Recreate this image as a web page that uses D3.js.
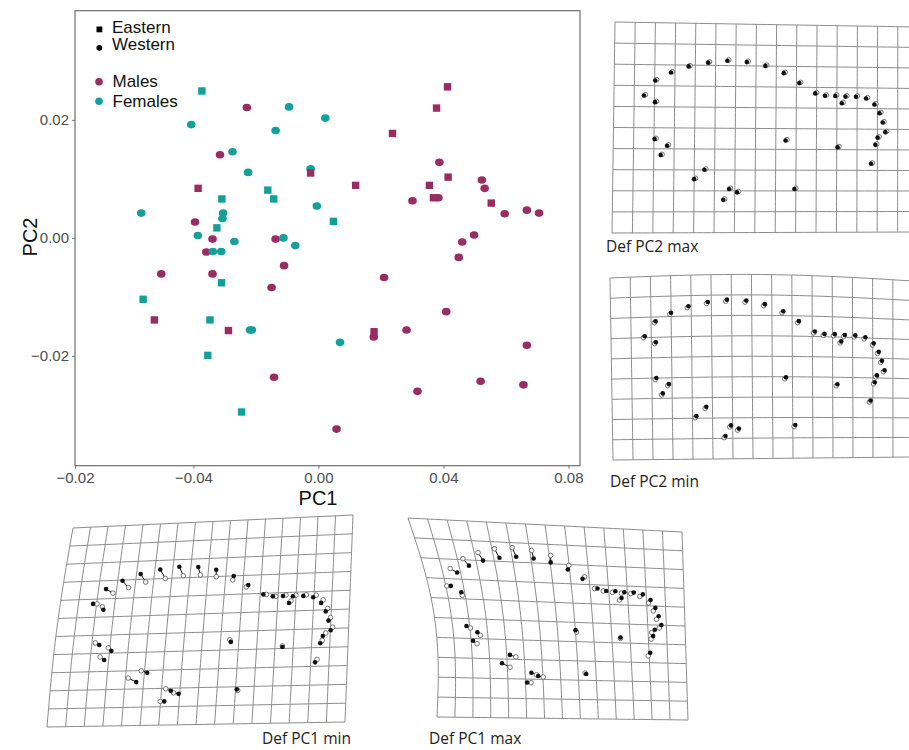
<!DOCTYPE html>
<html>
<head>
<meta charset="utf-8">
<script src="https://cdn.jsdelivr.net/npm/d3@7"></script>
<style>
body { margin: 0; background: #fff; }
svg { display: block; font-family: "Liberation Sans", Arial, sans-serif; }
</style>
</head>
<body>
<svg id="chart" width="909" height="750"></svg>
<script>
// PCA scores, [PC1, PC2]
const maleEastern = [
  [0.0413, 0.0256], [0.0378, 0.0220], [0.0237, 0.0177], [-0.0025, 0.0110], [-0.0385, 0.0084],
  [0.0119, 0.0089], [0.0355, 0.0089], [0.0415, 0.0103], [0.0368, 0.0068], [0.0553, 0.0059],
  [-0.0525, -0.0139], [-0.0288, -0.0157], [0.0178, -0.0159]
];
const maleWestern = [
  [-0.0229, 0.0221], [-0.0315, 0.0141], [0.0387, 0.0128], [0.0523, 0.0098], [0.0532, 0.0084],
  [0.0301, 0.0063], [0.0384, 0.0068], [0.0667, 0.0047], [0.0706, 0.0042], [0.0596, 0.0041],
  [-0.0395, 0.0027], [-0.0339, -0.0002], [-0.0137, -0.0002], [0.0498, 0.0005], [0.0460, -0.0007],
  [-0.0359, -0.0024], [0.0449, -0.0033], [-0.0110, -0.0047], [-0.0503, -0.0061], [-0.0339, -0.0061],
  [-0.0150, -0.0084], [0.0210, -0.0067], [0.0409, -0.0125], [0.0282, -0.0156], [0.0177, -0.0168],
  [0.0667, -0.0182], [-0.0142, -0.0236], [0.0519, -0.0243], [0.0317, -0.0260], [0.0656, -0.0249],
  [0.0058, -0.0324]
];
const femaleEastern = [
  [-0.0373, 0.0249], [-0.0309, 0.0066], [-0.0162, 0.0081], [-0.0143, 0.0066], [-0.0325, 0.0017],
  [0.0048, 0.0028], [-0.0310, -0.0076], [-0.0561, -0.0104], [-0.0347, -0.0139], [-0.0354, -0.0199],
  [-0.0246, -0.0295]
];
const femaleWestern = [
  [-0.0407, 0.0192], [-0.0094, 0.0222], [0.0022, 0.0203], [-0.0137, 0.0182], [-0.0275, 0.0146],
  [-0.0225, 0.0111], [-0.0025, 0.0117], [-0.0005, 0.0054], [-0.0567, 0.0042], [-0.0305, 0.0042],
  [-0.0307, 0.0033], [-0.0386, 0.0004], [-0.0269, -0.0006], [-0.0112, 0.0000], [-0.0074, -0.0013],
  [-0.0338, -0.0023], [-0.0311, -0.0023], [-0.0219, -0.0156], [-0.0213, -0.0156], [0.0069, -0.0177]
];

// axis ticks (the leftmost label is printed as in the original figure)
const xTickValues = [-0.0779, -0.04, 0, 0.04, 0.08];
const xTickLabels = ["\u22120.02", "\u22120.04", "0.00", "0.04", "0.08"];
const yTickValues = [-0.02, 0, 0.02];
const yTickLabels = ["\u22120.02", "0.00", "0.02"];

// landmark configuration (grid cell units of the PC2 max grid)
const lmU = [1.48, 2.03, 2.80, 3.67, 4.63, 5.58, 6.54, 7.46, 8.37, 9.14,
  2.03, 2.03, 2.65, 2.34, 4.00, 4.50, 5.44, 5.72, 6.11, 8.48, 8.93,
  9.93, 10.41, 10.92, 11.42, 11.94, 12.44, 12.85, 13.10, 13.26, 13.39, 13.01, 12.90, 12.69, 11.04, 11.24];
const lmV = [3.47, 2.75, 2.36, 2.06, 1.87, 1.77, 1.82, 1.99, 2.33, 2.80,
  3.78, 5.54, 5.85, 6.30, 7.44, 6.99, 8.43, 7.91, 8.07, 5.57, 7.91,
  3.29, 3.40, 3.40, 3.43, 3.43, 3.51, 3.80, 4.22, 4.67, 5.14, 5.41, 5.76, 6.68, 5.89, 3.75];
// mean minus target at PC1 max, px
const pc1ShiftX = [-4, -7, -6, -5, -5, -4, -2, 0, 1, 2,
  1, 4, 3, 4, 8, 6, 4, 5, 5, 1, -1,
  -3, -3, -3, -3, -3, -3, -2, -2, -2, -2, -3, -2, -2, 0, -2];
const pc1ShiftY = [0, -4, -7, -8, -9, -9, -8, -7, -4, -2,
  3, 2, 3, 3, 4, 2, 0, 2, 1, 2, -1,
  0, 0, 1, 1, 1, 2, 3, 3, 3, 3, 3, 3, 3, 1, 2];

const panels = [
  { label: "Def PC2 max", corners: [[615, 22], [918, 27], [918, 232], [612, 233]], nCols: 15, nRows: 10,
    u0: 0, su: 1, v0: 0, sv: 1, bowX: 0, bowY: 0, pc1: 0, shift: [1.4, -0.8], lx: 606, ly: 252 },
  { label: "Def PC2 min", corners: [[610, 278], [913, 281], [913, 457], [613, 460]], nCols: 15, nRows: 9,
    u0: 0.013, su: 1, v0: -0.06, sv: 1.111, bowX: 0, bowY: -5, pc1: 0, shift: [-1.2, 1.5], lx: 610, ly: 487 },
  { label: "Def PC1 min", corners: [[73, 528], [353, 515], [345, 722], [47, 727]], nCols: 16, nRows: 11,
    u0: 0.01, su: 1.04, v0: 0.04, sv: 1, bowX: -3, bowY: 0, pc1: -1, shift: [0, 0], lx: 262, ly: 744 },
  { label: "Def PC1 max", corners: [[408, 518], [682, 532], [688, 720], [437, 717]], nCols: 14, nRows: 10,
    u0: -0.01, su: 1.03, v0: 0, sv: 0.97, bowX: 12, bowY: 0, pc1: 1, shift: [0, 0], lx: 429, ly: 744 }
];

const magenta = "#9b2b63", teal = "#12a09a";
const svg = d3.select("#chart");
svg.append("rect").attr("width", 909).attr("height", 750).attr("fill", "#fff");

// ---- deformation grids ----
function warp(p, s, t) {
  const [tl, tr, br, bl] = p.corners;
  let px = (1 - s) * (1 - t) * tl[0] + s * (1 - t) * tr[0] + s * t * br[0] + (1 - s) * t * bl[0];
  let py = (1 - s) * (1 - t) * tl[1] + s * (1 - t) * tr[1] + s * t * br[1] + (1 - s) * t * bl[1];
  px += p.bowX * Math.sin(Math.PI * t) * (1 - s) * (1 - s);
  py += p.bowY * Math.sin(Math.PI * s) * (1 - t);
  return [px, py];
}
const line = d3.line();

panels.forEach(p => {
  const g = svg.append("g");
  for (let j = 0; j <= p.nRows; j++) {
    const pts = d3.range(41).map(k => warp(p, k / 40, j / p.nRows));
    g.append("path").attr("d", line(pts)).attr("fill", "none").attr("stroke", "#8c8c8c").attr("stroke-width", 1);
  }
  for (let i = 0; i <= p.nCols; i++) {
    const pts = d3.range(41).map(k => warp(p, i / p.nCols, k / 40));
    g.append("path").attr("d", line(pts)).attr("fill", "none").attr("stroke", "#8c8c8c").attr("stroke-width", 1);
  }
  const lms = lmU.map((u, i) => {
    const target = warp(p, p.u0 + p.su * u / 15, p.v0 + p.sv * lmV[i] / 10);
    const mean = [target[0] + p.pc1 * pc1ShiftX[i] + p.shift[0], target[1] + p.pc1 * pc1ShiftY[i] + p.shift[1]];
    return { target, mean };
  });
  g.selectAll(".link").data(lms).enter().append("line")
    .attr("x1", d => d.target[0]).attr("y1", d => d.target[1])
    .attr("x2", d => d.mean[0]).attr("y2", d => d.mean[1])
    .attr("stroke", "#111").attr("stroke-width", 1);
  g.selectAll(".mean").data(lms).enter().append("circle")
    .attr("cx", d => d.mean[0]).attr("cy", d => d.mean[1]).attr("r", 2.3)
    .attr("fill", "#fff").attr("stroke", "#666").attr("stroke-width", 0.9);
  g.selectAll(".target").data(lms).enter().append("circle")
    .attr("cx", d => d.target[0]).attr("cy", d => d.target[1]).attr("r", 2.3)
    .attr("fill", "#111");
  svg.append("text").attr("x", p.lx).attr("y", p.ly).text(p.label)
    .attr("font-family", "'Open Sans', 'Noto Sans', sans-serif").attr("font-size", 15.5).attr("fill", "#222");
});

// ---- scatter plot ----
const x = d3.scaleLinear().domain([-0.0779, 0.0837]).range([75, 580]);
const y = d3.scaleLinear().domain([-0.0386, 0.0385]).range([465.7, 10.7]);

const gx = svg.append("g").attr("transform", "translate(0,465.7)")
  .call(d3.axisBottom(x).tickValues(xTickValues).tickFormat((d, i) => xTickLabels[i]).tickSize(3).tickPadding(4));
const gy = svg.append("g").attr("transform", "translate(75,0)")
  .call(d3.axisLeft(y).tickValues(yTickValues).tickFormat((d, i) => yTickLabels[i]).tickSize(3).tickPadding(3));
[gx, gy].forEach(g => {
  g.select(".domain").remove();
  g.attr("font-family", "'Liberation Sans', Arial, sans-serif").attr("font-size", 15);
  g.selectAll("line").attr("stroke", "#777");
  g.selectAll("text").attr("fill", "#4d4d4d");
});

svg.append("rect").attr("x", 75).attr("y", 10.7).attr("width", 505).attr("height", 455)
  .attr("fill", "none").attr("stroke", "#6e6e6e").attr("stroke-width", 1.2);

svg.append("text").attr("x", 318).attr("y", 505).attr("text-anchor", "middle")
  .attr("font-size", 20).attr("fill", "#111").text("PC1");
svg.append("text").attr("transform", "translate(37,237) rotate(-90)").attr("text-anchor", "middle")
  .attr("font-size", 20).attr("fill", "#111").text("PC2");

const plot = svg.append("g");
function circles(data, color) {
  plot.selectAll(null).data(data).enter().append("ellipse")
    .attr("cx", d => x(d[0])).attr("cy", d => y(d[1])).attr("rx", 4.3).attr("ry", 3.8).attr("fill", color);
}
function squares(data, color) {
  plot.selectAll(null).data(data).enter().append("rect")
    .attr("x", d => x(d[0]) - 3.7).attr("y", d => y(d[1]) - 3.7).attr("width", 7.4).attr("height", 7.4).attr("fill", color);
}
circles(maleWestern, magenta);
circles(femaleWestern, teal);
squares(maleEastern, magenta);
squares(femaleEastern, teal);

// legend
const leg = svg.append("g").attr("font-size", 17).attr("fill", "#111");
leg.append("rect").attr("x", 96.5).attr("y", 26.5).attr("width", 5.8).attr("height", 5.8).attr("fill", "#000");
leg.append("circle").attr("cx", 99.3).attr("cy", 47.8).attr("r", 2.9).attr("fill", "#000");
leg.append("text").attr("x", 112).attr("y", 33).text("Eastern");
leg.append("text").attr("x", 112).attr("y", 50).text("Western");
leg.append("circle").attr("cx", 99).attr("cy", 81.7).attr("r", 3.8).attr("fill", magenta);
leg.append("circle").attr("cx", 99).attr("cy", 101.3).attr("r", 3.8).attr("fill", teal);
leg.append("text").attr("x", 112.5).attr("y", 87).text("Males");
leg.append("text").attr("x", 112.5).attr("y", 107).text("Females");
</script>
</body>
</html>
